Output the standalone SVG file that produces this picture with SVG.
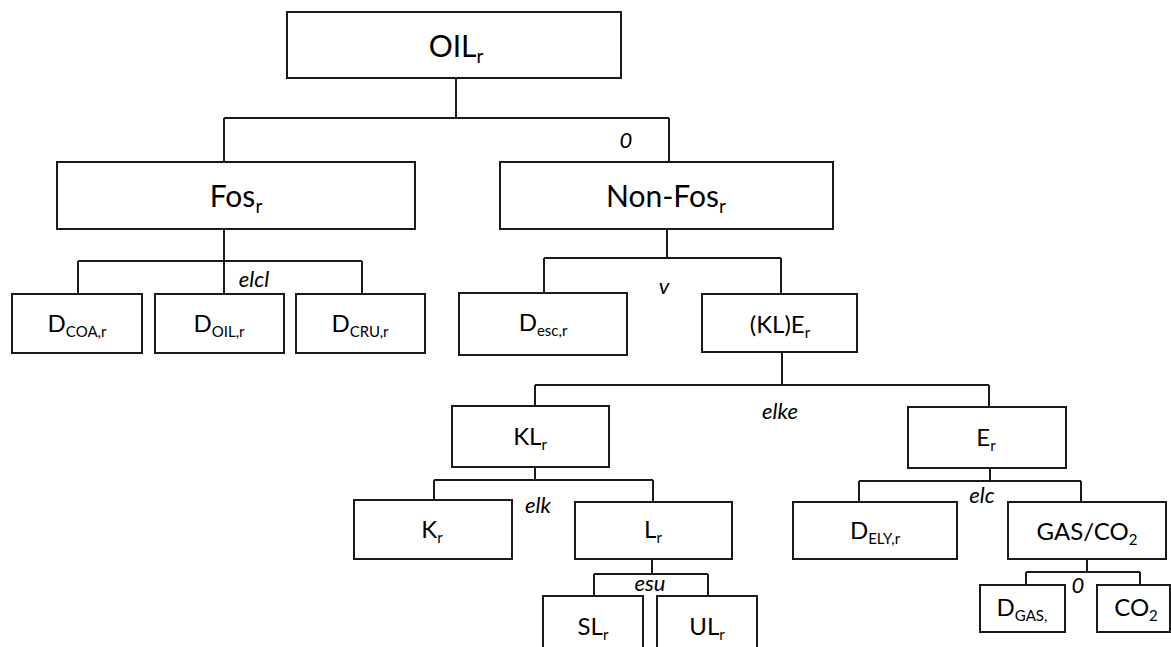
<svg xmlns="http://www.w3.org/2000/svg" width="1171" height="647" viewBox="0 0 1171 647">
<style>
.box{fill:#fff;stroke:#1a1a1a;stroke-width:2}
.ln{fill:none;stroke:#1a1a1a;stroke-width:2}
.t{font-family:Lato,"Liberation Sans",sans-serif;fill:#000;text-anchor:middle}
.big{font-size:30px}
.sm{font-size:24px}
.lab{font-family:Lato,"Liberation Sans",sans-serif;font-style:italic;font-size:22px;fill:#000;text-anchor:middle}
</style>
<rect width="1171" height="647" fill="#fff"/>
<g id="connectors">
<path class="ln" d="M456 78V118M224 118H669M224 118V162M669 118V162"/>
<path class="ln" d="M224 229V261M78 261H362M78 261V294M224 261V294M362 261V294"/>
<path class="ln" d="M667 229V258M544 258H781M544 258V293M781 258V294"/>
<path class="ln" d="M782 352V385M535 385H989M535 385V406M989 385V407"/>
<path class="ln" d="M535 467V480M434 480H653M434 480V500M653 480V502"/>
<path class="ln" d="M990 468V481M859 481H1081M859 481V502M1081 481V502"/>
<path class="ln" d="M652 559V574M594 574H708M594 574V596M708 574V596"/>
<path class="ln" d="M1087 559V572M1026 572H1140M1026 572V585M1140 572V585"/>
</g>
<g id="labels">
<text class="lab" x="626" y="148">0</text>
<text class="lab" x="254" y="287">elcl</text>
<text class="lab" x="664" y="294">v</text>
<text class="lab" x="780" y="419">elke</text>
<text class="lab" x="538" y="513">elk</text>
<text class="lab" x="982" y="503">elc</text>
<text class="lab" x="1078" y="593">0</text>
<text class="lab" x="650" y="591">esu</text>
</g>
<g id="n-oil"><rect class="box" x="287" y="12" width="334" height="66"/><text class="t big" x="456" y="57">OIL<tspan font-size="19" dy="6">r</tspan></text></g>
<g id="n-fos"><rect class="box" x="57" y="162" width="358" height="67"/><text class="t big" x="236" y="207">Fos<tspan font-size="19" dy="6">r</tspan></text></g>
<g id="n-nonfos"><rect class="box" x="500" y="162" width="333" height="67"/><text class="t big" x="666" y="207">Non-Fos<tspan font-size="19" dy="6">r</tspan></text></g>
<g id="n-dcoa"><rect class="box" x="12" y="294" width="130" height="59"/><text class="t sm" x="77" y="332">D<tspan font-size="15" dy="5">COA,r</tspan></text></g>
<g id="n-doil"><rect class="box" x="155" y="294" width="129" height="59"/><text class="t sm" x="219" y="332">D<tspan font-size="15" dy="5">OIL,r</tspan></text></g>
<g id="n-dcru"><rect class="box" x="296" y="294" width="129" height="59"/><text class="t sm" x="360" y="332">D<tspan font-size="15" dy="5">CRU,r</tspan></text></g>
<g id="n-desc"><rect class="box" x="459" y="293" width="168" height="62"/><text class="t sm" x="543" y="331">D<tspan font-size="15" dy="5">esc,r</tspan></text></g>
<g id="n-kle"><rect class="box" x="702" y="294" width="155" height="58"/><text class="t sm" x="780" y="333">(KL)E<tspan font-size="15" dy="5">r</tspan></text></g>
<g id="n-kl"><rect class="box" x="452" y="406" width="157" height="61"/><text class="t sm" x="530" y="445">KL<tspan font-size="15" dy="5">r</tspan></text></g>
<g id="n-e"><rect class="box" x="908" y="407" width="158" height="61"/><text class="t sm" x="986" y="446">E<tspan font-size="15" dy="5">r</tspan></text></g>
<g id="n-k"><rect class="box" x="354" y="500" width="158" height="59"/><text class="t sm" x="432" y="538">K<tspan font-size="15" dy="5">r</tspan></text></g>
<g id="n-l"><rect class="box" x="575" y="502" width="157" height="57"/><text class="t sm" x="653" y="538">L<tspan font-size="15" dy="5">r</tspan></text></g>
<g id="n-dely"><rect class="box" x="793" y="502" width="164" height="57"/><text class="t sm" x="875" y="539">D<tspan font-size="15" dy="5">ELY,r</tspan></text></g>
<g id="n-gasco2"><rect class="box" x="1008" y="502" width="158" height="57"/><text class="t sm" x="1087" y="540">GAS/CO<tspan font-size="15" dy="5">2</tspan></text></g>
<g id="n-dgas"><rect class="box" x="980" y="585" width="85" height="47"/><text class="t sm" x="1022" y="616">D<tspan font-size="15" dy="5">GAS,</tspan></text></g>
<g id="n-co2"><rect class="box" x="1097" y="585" width="73" height="47"/><text class="t sm" x="1136" y="616">CO<tspan font-size="15" dy="5">2</tspan></text></g>
<g id="n-sl"><rect class="box" x="543" y="596" width="100" height="60"/><text class="t sm" x="593" y="635">SL<tspan font-size="15" dy="5">r</tspan></text></g>
<g id="n-ul"><rect class="box" x="657" y="596" width="100" height="60"/><text class="t sm" x="707" y="635">UL<tspan font-size="15" dy="5">r</tspan></text></g>
</svg>
